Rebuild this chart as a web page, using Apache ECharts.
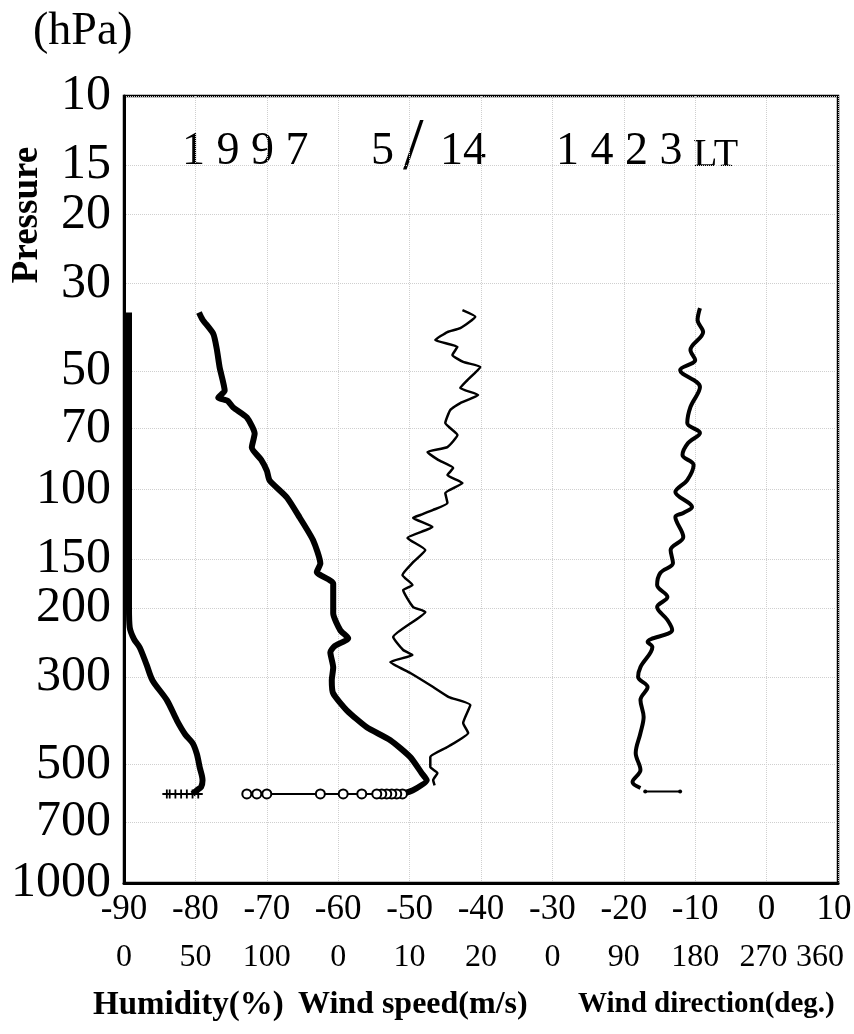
<!DOCTYPE html>
<html>
<head>
<meta charset="utf-8">
<script src="https://cdn.jsdelivr.net/npm/echarts@6/dist/echarts.min.js"></script>
<style>
html,body{margin:0;padding:0;background:#fff;}
#c{width:854px;height:1034px;}
</style>
</head>
<body>
<div id="c"></div>
<script>
// ---------- data ----------
const pressureTicks = [10, 15, 20, 30, 50, 70, 100, 150, 200, 300, 500, 700, 1000];
const tempTicks = [-90, -80, -70, -60, -50, -40, -30, -20, -10, 0, 10];
const secondRowLabels = ['0', '50', '100', '0', '10', '20', '0', '90', '180', '270', '360'];

// temperature profile (hPa, deg C)
const tempP = [35.5, 37, 40.2, 44, 49, 56.1, 58.4, 59.5, 61.9, 65.6, 72.1, 78.2, 84, 89.5, 94.9, 104.7, 117.8, 134.7, 154.3, 162, 173.3, 191.3, 206.4, 228, 238.9, 250, 259.2, 283.2, 305.6, 329.8, 364, 402, 433.6, 478.8, 526, 548, 581, 594];
const tempT = [-79.5, -79.0, -77.5, -77.0, -76.6, -75.9, -76.8, -75.5, -74.7, -72.8, -71.7, -72.1, -70.8, -70.0, -69.6, -67.2, -65.4, -63.5, -62.5, -63.0, -60.7, -60.7, -60.7, -59.7, -58.6, -60.5, -61.1, -60.7, -60.9, -60.7, -58.8, -56.0, -52.7, -49.9, -48.3, -47.6, -49.5, -51.0];
// surface (launch) temperature samples
const tempSfcP = [594, 594, 594, 594, 594, 594, 594, 594, 594, 594, 594, 594];
const tempSfcT = [-51.0, -51.8, -52.5, -53.2, -53.9, -54.6, -56.7, -59.3, -62.5, -70.0, -71.4, -72.8];

// relative humidity (hPa, %)
const humP = [35.5, 60, 100, 150, 200, 224, 240, 252, 280, 305.6, 343, 386, 420, 441, 470, 508, 548, 570, 581, 594];
const humRH = [3.5, 3.5, 3.5, 3.5, 3.5, 4, 7, 11, 16, 20, 30, 37, 43, 48, 51, 53, 55, 54, 51, 48];
const humSfcP = [594, 594, 594, 594, 594, 594, 594];
const humSfcRH = [52, 48, 44, 40, 36, 32, 30];

// wind speed (hPa, m/s)
const windP = [35.0, 36.4, 38.9, 39.8, 41.7, 43.4, 45.5, 47.4, 48.8, 52.7, 55.2, 57.5, 60.3, 62.8, 67.8, 72.7, 78.0, 80.3, 84.1, 88.2, 91.9, 96.3, 102.1, 108.2, 112.7, 116.1, 118.1, 124.5, 132.8, 142.5, 153.0, 164.9, 174.9, 180.1, 198.9, 204.8, 237.1, 255.8, 263.4, 274.5, 292.7, 317.7, 336.9, 352.9, 392.1, 415.7, 451.2, 478.4, 507.3, 525.5, 547.4, 565];
const windSpd = [17.4, 19.2, 17.1, 15.3, 13.6, 16.7, 16.0, 17.5, 19.9, 18.1, 17.1, 19.6, 17.1, 15.7, 15.0, 16.7, 15.3, 12.5, 14.0, 16.1, 15.3, 17.4, 15.0, 15.3, 13.3, 11.5, 10.5, 13.2, 9.7, 12.2, 10.5, 9.0, 10.4, 9.1, 10.5, 12.2, 7.7, 9.1, 10.4, 7.3, 10.1, 13.3, 15.5, 18.5, 17.5, 18.2, 15.3, 12.9, 12.9, 13.9, 13.3, 13.5];

// wind direction (hPa, deg)
const dirP = [34.6, 37.1, 39.8, 44.2, 46.9, 49.7, 54.9, 61.7, 67.8, 71.8, 76.2, 81.7, 86.6, 94.6, 101.5, 110.8, 114.7, 117.5, 132.0, 142.5, 153.8, 163.0, 174.9, 187.6, 198.9, 214.6, 227.5, 244.1, 251.3, 282.6, 299.6, 317.7, 342.7, 378.6, 415.7, 467.3, 516.3, 553.8, 573.6];
const dirDeg = [186, 183, 190, 174, 180, 161, 186, 174, 170, 186, 171, 164, 178, 170, 155, 176, 165, 155, 165, 149, 152, 136, 132, 145, 132, 145, 151, 120, 126, 111, 108, 120, 111, 115, 111, 105, 111, 101, 111];
const dirSfcP = [585, 585];
const dirSfcDeg = [117, 161];

// ---------- chart ----------
const SERIF = 'Liberation Serif';
const toPts = (xs, ps) => xs.map((x, i) => [x, Math.log10(ps[i])]);
const logTicks = pressureTicks.map(p => Math.log10(p));
const gridLine = { show: true, lineStyle: { color: '#cfcfcf', type: 'dotted', width: 1 } };

const chart = echarts.init(document.getElementById('c'), null, { renderer: 'canvas' });

const rowA = { fontFamily: SERIF, fontSize: 35, lineHeight: 48, color: '#000' };
const rowB = { fontFamily: SERIF, fontSize: 32, lineHeight: 48, color: '#000' };

const option = {
  animation: false,
  backgroundColor: '#fff',
  grid: { left: 124, right: 16, top: 96, bottom: 151, containLabel: false, outerBoundsMode: 'none', show: true, borderColor: '#000', borderWidth: 2.5, backgroundColor: 'transparent' },
  xAxis: [
    {
      type: 'value', min: tempTicks[0], max: tempTicks[tempTicks.length - 1], interval: 10,
      axisLine: { show: true, onZero: false, lineStyle: { color: '#000', width: 3 } },
      axisTick: { show: false },
      splitLine: gridLine,
      axisLabel: {
        margin: 3, showMinLabel: true, showMaxLabel: true, hideOverlap: false,
        formatter: function (v) {
          const i = Math.round((v - tempTicks[0]) / 10);
          const last = tempTicks.length - 1;
          const a = i === last ? 'aEnd' : 'a';
          const b = i === last ? 'bEnd' : (i === last - 1 ? 'bPre' : 'b');
          return '{' + a + '|' + v + '}\n{' + b + '|' + secondRowLabels[i] + '}';
        },
        rich: {
          a: rowA,
          aEnd: Object.assign({}, rowA, { padding: [0, 8, 0, 0] }),
          b: rowB,
          bPre: Object.assign({}, rowB, { padding: [0, 6, 0, 0] }),
          bEnd: Object.assign({}, rowB, { padding: [0, 36, 0, 0] })
        }
      }
    },
    { type: 'value', min: 0, max: 500, show: false },      // humidity scale
    { type: 'value', min: -30, max: 70, show: false },     // wind speed scale
    { type: 'value', min: -540, max: 360, show: false }    // wind direction scale
  ],
  yAxis: {
    type: 'value', min: 1, max: 3, inverse: true,
    axisLine: { show: true, onZero: false, lineStyle: { color: '#000', width: 3 } },
    axisTick: { show: false, customValues: logTicks },
    axisLabel: {
      customValues: logTicks,
      formatter: v => String(Math.round(Math.pow(10, v))),
      fontFamily: SERIF, fontSize: 50, color: '#000', margin: 13, padding: [0, 0, 8, 0]
    },
    splitLine: gridLine
  },
  graphic: [
    { type: 'text', x: 33, y: 32, style: { text: '(hPa)', fontFamily: SERIF, fontSize: 46, fill: '#000', align: 'left', verticalAlign: 'middle' } },
    { type: 'text', x: 27, y: 215, rotation: Math.PI / 2, style: { text: 'Pressure', fontFamily: SERIF, fontWeight: 'bold', fontSize: 37, fill: '#000', align: 'center', verticalAlign: 'middle' } },
    { type: 'text', x: 182, y: 152, style: { text: '1 9 9 7', fontFamily: SERIF, fontSize: 46, fill: '#000', align: 'left', verticalAlign: 'middle' } },
    { type: 'text', x: 371, y: 152, style: { text: '5', fontFamily: SERIF, fontSize: 46, fill: '#000', align: 'left', verticalAlign: 'middle' } },
    { type: 'text', x: 403, y: 150, style: { text: '/', fontFamily: SERIF, fontSize: 74, fill: '#000', align: 'left', verticalAlign: 'middle' } },
    { type: 'text', x: 440, y: 152, style: { text: '14', fontFamily: SERIF, fontSize: 46, fill: '#000', align: 'left', verticalAlign: 'middle' } },
    { type: 'text', x: 556, y: 152, style: { text: '1 4 2 3', fontFamily: SERIF, fontSize: 46, fill: '#000', align: 'left', verticalAlign: 'middle' } },
    { type: 'text', x: 693, y: 155, style: { text: 'LT', fontFamily: SERIF, fontSize: 40, fill: '#000', align: 'left', verticalAlign: 'middle' } },
    { type: 'text', x: 93, y: 1005, style: { text: 'Humidity(%)', fontFamily: SERIF, fontWeight: 'bold', fontSize: 33, fill: '#000', align: 'left', verticalAlign: 'middle' } },
    { type: 'text', x: 298, y: 1005, style: { text: 'Wind speed(m/s)', fontFamily: SERIF, fontWeight: 'bold', fontSize: 32, fill: '#000', align: 'left', verticalAlign: 'middle' } },
    { type: 'text', x: 578, y: 1005, style: { text: 'Wind direction(deg.)', fontFamily: SERIF, fontWeight: 'bold', fontSize: 29, fill: '#000', align: 'left', verticalAlign: 'middle' } }
  ],
  series: [
    {
      name: 'Humidity', type: 'line', xAxisIndex: 1, data: toPts(humRH, humP),
      symbol: 'none', smooth: 0.3, lineStyle: { color: '#000', width: 6 }, z: 3
    },
    {
      name: 'Humidity surface', type: 'line', xAxisIndex: 1, data: toPts(humSfcRH, humSfcP),
      symbol: 'path://M4,0H6V4H10V6H6V10H4V6H0V4H4Z', symbolSize: 9, showSymbol: true,
      itemStyle: { color: '#000' }, lineStyle: { color: '#000', width: 2 }, z: 3
    },
    {
      name: 'Temperature', type: 'line', xAxisIndex: 0, data: toPts(tempT, tempP),
      symbol: 'none', smooth: 0.2, lineStyle: { color: '#000', width: 6 }, z: 3
    },
    {
      name: 'Temperature surface', type: 'line', xAxisIndex: 0, data: toPts(tempSfcT, tempSfcP),
      symbol: 'circle', symbolSize: 9, showSymbol: true,
      itemStyle: { color: '#fff', borderColor: '#000', borderWidth: 2 },
      lineStyle: { color: '#000', width: 2 }, z: 4
    },
    {
      name: 'Wind speed', type: 'line', xAxisIndex: 2, data: toPts(windSpd, windP),
      symbol: 'none', smooth: 0.15, lineStyle: { color: '#000', width: 2.5 }, z: 3
    },
    {
      name: 'Wind direction', type: 'line', xAxisIndex: 3, data: toPts(dirDeg, dirP),
      symbol: 'none', smooth: 0.35, lineStyle: { color: '#000', width: 4 }, z: 3
    },
    {
      name: 'Wind direction surface', type: 'line', xAxisIndex: 3, data: toPts(dirSfcDeg, dirSfcP),
      symbol: 'circle', symbolSize: 4, showSymbol: true, itemStyle: { color: '#000' },
      lineStyle: { color: '#000', width: 2 }, z: 3
    }
  ]
};
chart.setOption(option);
</script>
</body>
</html>
